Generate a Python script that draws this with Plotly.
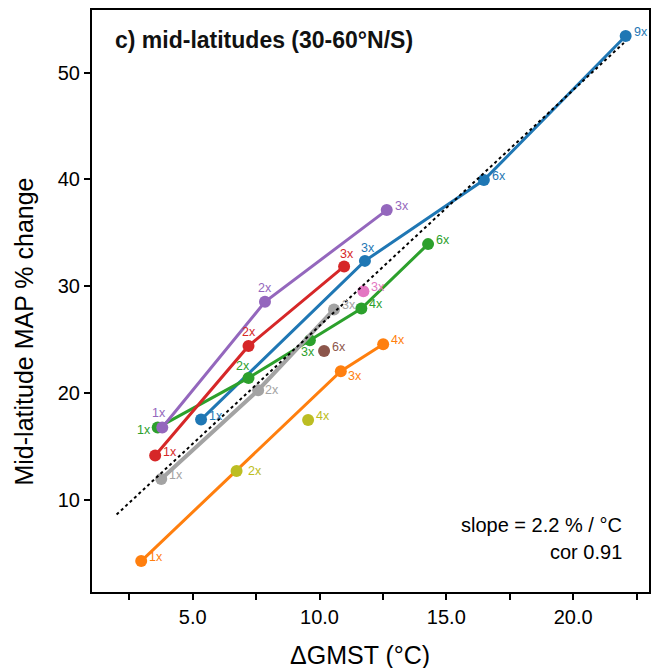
import plotly.graph_objects as go

# ---------------- data ----------------
blue_x = [5.33, 11.79, 16.48, 22.07]
blue_y = [17.50, 32.37, 39.94, 53.44]
blue_lab = ["1x", "3x", "6x", "9x"]

orange_x = [2.97, 10.84, 12.51]
orange_y = [4.24, 22.03, 24.56]
orange_lab = ["1x", "3x", "4x"]

green_x = [3.62, 7.20, 9.62, 11.65, 14.28]
green_y = [16.75, 21.40, 24.94, 27.91, 33.94]
green_lab = ["1x", "2x", "3x", "4x", "6x"]

red_x = [3.52, 7.20, 10.97]
red_y = [14.13, 24.40, 31.85]
red_lab = ["1x", "2x", "3x"]

purple_x = [3.80, 7.85, 12.65]
purple_y = [16.75, 28.53, 37.13]
purple_lab = ["1x", "2x", "3x"]

brown_x = [10.18]
brown_y = [23.92]
brown_lab = ["6x"]

pink_x = [11.73]
pink_y = [29.53]
pink_lab = ["3x"]

gray_x = [3.76, 7.58, 10.57]
gray_y = [11.93, 20.25, 27.82]
gray_lab = ["1x", "2x", "3x"]

olive_x = [6.73, 9.55]
olive_y = [12.68, 17.45]
olive_lab = ["2x", "4x"]

fit_x = [2.0, 22.0]
fit_y = [8.6, 52.8]

x_ticks = [2.5, 5.0, 7.5, 10.0, 12.5, 15.0, 17.5, 20.0, 22.5]
x_ticktext = ["", "5.0", "", "10.0", "", "15.0", "", "20.0", ""]
y_ticks = [10, 20, 30, 40, 50]

title_text = "c) mid-latitudes (30-60°N/S)"
slope_text = "slope = 2.2 % / °C"
cor_text = "cor 0.91"
xlabel = "ΔGMST (°C)"
ylabel = "Mid-latitude MAP % change"

# ---------------- styles ----------------
FONT = "Liberation Sans, Arial, sans-serif"
R = (15, -4)   # right of point
A = (0, -14)   # above point
series = [
    ("blue", blue_x, blue_y, blue_lab, "#1f77b4", 3, "lines+markers", [R, (3, -13), R, R]),
    ("orange", orange_x, orange_y, orange_lab, "#ff7f0e", 3, "lines+markers", [R, (14, 5), R]),
    ("green", green_x, green_y, green_lab, "#2ca02c", 3, "lines+markers", [(-14, 2), (-6, -12), (-2, 12), R, R]),
    ("red", red_x, red_y, red_lab, "#d62728", 3, "lines+markers", [R, A, (3, -12)]),
    ("purple", purple_x, purple_y, purple_lab, "#9467bd", 3, "lines+markers", [(-3, -15), A, R]),
    ("brown", brown_x, brown_y, brown_lab, "#8c564b", 3, "markers", [R]),
    ("pink", pink_x, pink_y, pink_lab, "#e377c2", 3, "markers", [R]),
    ("gray", gray_x, gray_y, gray_lab, "#a3a3a3", 4, "lines+markers", [R, (14, 0), R]),
    ("olive", olive_x, olive_y, olive_lab, "#bcbd22", 3, "markers", [(18, 0), R]),
]

fig = go.Figure()
annotations = []
for name, xs, ys, labs, col, lw, mode, offs in series:
    fig.add_trace(go.Scatter(
        x=xs, y=ys, mode=mode, name=name,
        line=dict(color=col, width=lw),
        marker=dict(color=col, size=12, line=dict(width=0)),
        showlegend=False, hoverinfo="skip"))
    for xv, yv, lab, (dx, dy) in zip(xs, ys, labs, offs):
        annotations.append(dict(
            x=xv, y=yv, xref="x", yref="y", text=lab, showarrow=False,
            xanchor="center", yanchor="middle", xshift=dx, yshift=-dy,
            font=dict(family=FONT, size=12.5, color=col)))

fig.add_trace(go.Scatter(
    x=fit_x, y=fit_y, mode="lines",
    line=dict(color="black", width=2, dash="3px,3px"),
    showlegend=False, hoverinfo="skip"))

# text annotations (paper coords)
annotations += [
    dict(x=0.037, y=0.948, xref="paper", yref="paper", text="<b>" + title_text + "</b>",
         showarrow=False, xanchor="left", yanchor="middle",
         font=dict(family=FONT, size=23, color="#111111")),
    dict(x=0.956, y=0.115, xref="paper", yref="paper", text=slope_text,
         showarrow=False, xanchor="right", yanchor="middle",
         font=dict(family=FONT, size=20, color="black")),
    dict(x=0.956, y=0.069, xref="paper", yref="paper", text=cor_text,
         showarrow=False, xanchor="right", yanchor="middle",
         font=dict(family=FONT, size=20, color="black")),
    dict(x=-0.1216, y=0.448, xref="paper", yref="paper", text=ylabel,
         showarrow=False, xanchor="center", yanchor="middle", textangle=-90,
         font=dict(family=FONT, size=25, color="black")),
    dict(x=0.481, y=-0.108, xref="paper", yref="paper", text=xlabel,
         showarrow=False, xanchor="center", yanchor="middle",
         font=dict(family=FONT, size=25, color="black")),
]

axis_common = dict(
    showgrid=False, zeroline=False, showline=True, linecolor="black", linewidth=2,
    mirror=True, ticks="outside", ticklen=6, tickwidth=1.5, tickcolor="black",
    tickfont=dict(family=FONT, size=20, color="black"))

fig.update_layout(
    width=652, height=668,
    margin=dict(l=92, r=1, t=10, b=76),
    plot_bgcolor="white", paper_bgcolor="white",
    xaxis=dict(range=[1.03, 22.99], tickmode="array", tickvals=x_ticks,
               ticktext=x_ticktext, **axis_common),
    yaxis=dict(range=[1.34, 55.88], tickmode="array", tickvals=y_ticks,
               **axis_common),
    annotations=annotations,
)

fig.write_html("out.html")
